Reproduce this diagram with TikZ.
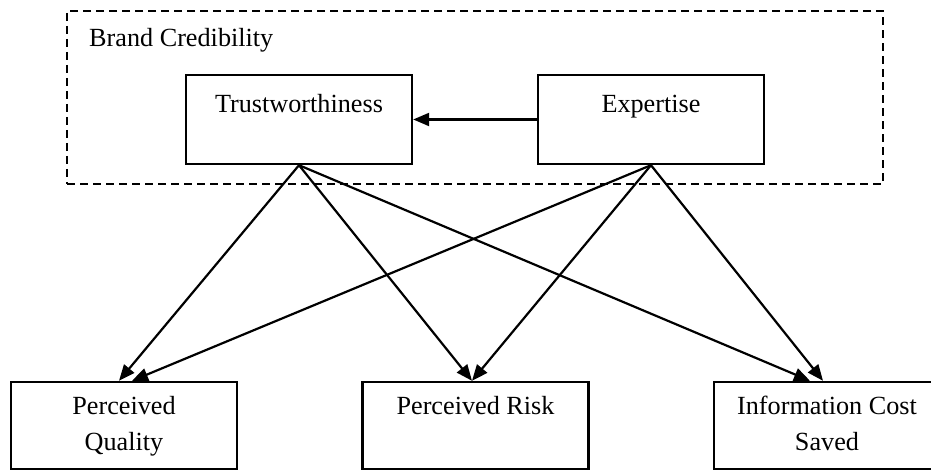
\documentclass[tikz,border=0pt]{standalone}
\usepackage{fontspec}
\setmainfont{Liberation Serif}
\usetikzlibrary{arrows.meta}
\begin{document}
\begin{tikzpicture}[x=1pt,y=1pt,
  txt/.style={font=\fontsize{26.2}{36}\selectfont, inner sep=0pt},
  box/.style={draw, line width=2.4pt, minimum width=226pt, inner sep=0pt},
  toplbl/.style={txt, anchor=north, align=center, yshift=-13.8pt},
  botlbl/.style={txt, anchor=north, align=center, yshift=-8.8pt},
  link/.style={line width=2.2pt, -{Triangle[length=16pt,width=13pt]}},
  group/.style={draw, line width=2.4pt, dash pattern=on 8pt off 5pt, inner sep=0pt}]
\useasboundingbox (0,0) rectangle (931,470);
\clip (0,0) rectangle (931,470);

% dashed grouping frame
\node[group, minimum width=816pt, minimum height=173pt] (brand) at (475,372.5) {};
\node[txt, anchor=base west] (brandtitle) at (89,423) {Brand Credibility};

% upper constructs
\node[box, minimum height=89pt,
  label={[toplbl]north:\strut Trustworthiness}] (trust) at (299,350.5) {};
\node[box, minimum height=89pt,
  label={[toplbl]north:\strut Expertise}] (expert) at (651,350.5) {};

% outcome constructs
\node[box, minimum height=87.5pt,
  label={[botlbl]north:\strut Perceived\\\strut Quality}] (pq) at (124,44.25) {};
\node[box, minimum height=87.5pt,
  label={[botlbl]north:\strut Perceived Risk}] (pr) at (475.5,44.25) {};
\node[box, minimum height=87.5pt,
  label={[botlbl]north:\strut Information Cost\\\strut Saved}] (ics) at (827,44.25) {};

% paths
\draw[link] (expert.west) -- (trust.east);
\draw[link] (trust.south) -- ([xshift=-5pt]pq.north);
\draw[link] (trust.south) -- ([xshift=-3.5pt]pr.north);
\draw[link] (trust.south) -- ([xshift=-17pt]ics.north);
\draw[link] (expert.south) -- ([xshift=8pt]pq.north);
\draw[link] (expert.south) -- ([xshift=-3.5pt]pr.north);
\draw[link] (expert.south) -- ([xshift=-4pt]ics.north);
\end{tikzpicture}
\end{document}
